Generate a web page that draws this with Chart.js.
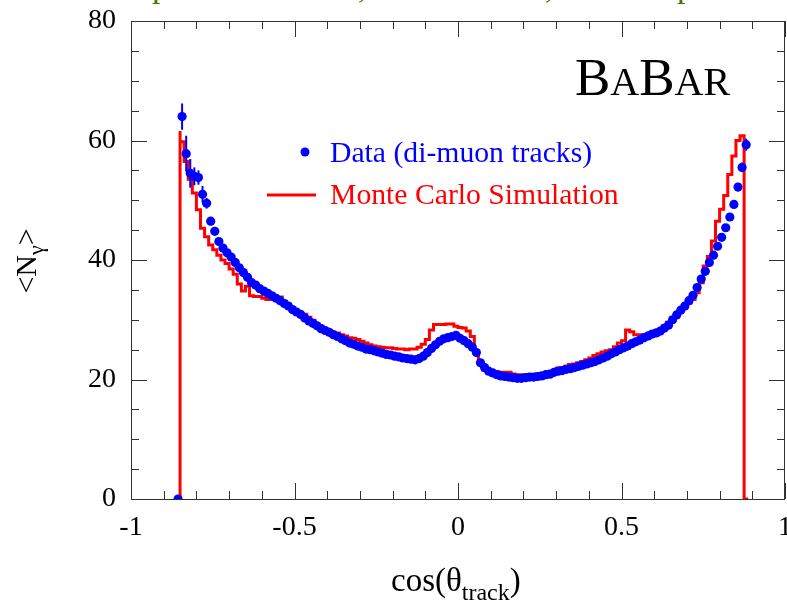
<!DOCTYPE html>
<html>
<head>
<meta charset="utf-8">
<script src="https://cdn.jsdelivr.net/npm/chart.js@4.4.1/dist/chart.umd.min.js"></script>
<style>
  html, body { margin: 0; padding: 0; background: #fff; }
  #wrap { width: 787px; height: 600px; position: relative; }
</style>
</head>
<body>
<div id="wrap"><canvas id="chart"></canvas></div>
<script>
// histogram binning (160 bins over -1..1, filled from -0.85 to 0.8875)
const BIN_START = -0.85;
const BIN_WIDTH = 0.0125;

// <N_gamma> per bin, data points (di-muon tracks)
const dataValues = [
  64.0, 57.8, 54.5, 54.0, 53.8, 51.0, 49.5, 46.5, 44.8, 43.1,
  42.0, 41.2, 40.5, 39.6, 38.7, 37.9, 37.1, 36.2, 35.8, 35.2,
  34.8, 34.4, 34.0, 33.6, 33.2, 32.7, 32.3, 31.7, 31.3, 30.9,
  30.3, 29.8, 29.4, 29.0, 28.5, 28.2, 27.9, 27.5, 27.2, 26.8,
  26.5, 26.1, 25.9, 25.6, 25.4, 25.1, 25.0, 24.8, 24.6, 24.4,
  24.2, 24.1, 23.9, 23.8, 23.6, 23.5, 23.4, 23.3, 23.5, 23.9,
  24.5, 25.2, 25.8, 26.4, 26.8, 27.0, 27.2, 27.4, 26.9, 26.5,
  26.0, 25.4, 24.5, 22.8, 22.0, 21.4, 21.1, 20.8, 20.6, 20.5,
  20.4, 20.3, 20.2, 20.2, 20.3, 20.4, 20.4, 20.5, 20.6, 20.8,
  20.9, 21.2, 21.4, 21.5, 21.7, 21.8, 22.0, 22.2, 22.4, 22.6,
  22.8, 23.0, 23.3, 23.6, 23.9, 24.3, 24.6, 25.0, 25.3, 25.6,
  26.0, 26.3, 26.6, 27.0, 27.3, 27.6, 27.8, 28.1, 28.6, 29.1,
  30.0, 30.8, 31.6, 32.3, 33.2, 34.1, 35.4, 36.8, 38.1, 39.6,
  40.8, 42.3, 43.8, 45.4, 47.2, 49.3, 52.2, 55.5, 59.3
];

// statistical errors on the data points
const dataErrors = [
  2.2, 3.0, 2.4, 1.5, 1.2, 1.4, 0.9, 0.7, 0.6, 0.5,
  0.4, 0.4, 0.4, 0.3, 0.3, 0.3, 0.3, 0.3, 0.3, 0.3,
  0.3, 0.3, 0.3, 0.3, 0.3, 0.3, 0.3, 0.3, 0.3, 0.3,
  0.3, 0.3, 0.3, 0.3, 0.3, 0.3, 0.3, 0.3, 0.3, 0.3,
  0.3, 0.3, 0.3, 0.3, 0.3, 0.3, 0.3, 0.3, 0.3, 0.3,
  0.3, 0.3, 0.3, 0.3, 0.3, 0.3, 0.3, 0.3, 0.3, 0.3,
  0.3, 0.3, 0.3, 0.3, 0.3, 0.3, 0.3, 0.3, 0.3, 0.3,
  0.3, 0.3, 0.3, 0.3, 0.3, 0.3, 0.3, 0.3, 0.3, 0.3,
  0.3, 0.3, 0.3, 0.3, 0.3, 0.3, 0.3, 0.3, 0.3, 0.3,
  0.3, 0.3, 0.3, 0.3, 0.3, 0.3, 0.3, 0.3, 0.3, 0.3,
  0.3, 0.3, 0.3, 0.3, 0.3, 0.3, 0.3, 0.3, 0.3, 0.3,
  0.3, 0.3, 0.3, 0.3, 0.3, 0.3, 0.3, 0.3, 0.3, 0.3,
  0.3, 0.3, 0.3, 0.3, 0.3, 0.3, 0.3, 0.4, 0.4, 0.4,
  0.4, 0.5, 0.5, 0.5, 0.6, 0.6, 0.7, 0.8, 1.0
];

// point in the first empty bin below the acceptance
const dataOutside = [-0.85625, 0];

// <N_gamma> per bin, Monte Carlo histogram
const mcValues = [
  61.6, 59.8, 56.5, 53.5, 51.2, 48.4, 45.3, 43.9, 42.5, 41.7,
  40.8, 40.0, 39.4, 38.5, 37.6, 36.0, 34.8, 35.6, 34.0, 33.9,
  33.9, 33.6, 33.4, 33.4, 33.7, 33.8, 33.1, 32.6, 32.0, 31.4,
  31.0, 30.9, 30.4, 29.9, 29.2, 28.9, 28.3, 28.1, 27.9, 27.8,
  27.5, 27.3, 27.0, 26.9, 26.7, 26.4, 26.1, 25.8, 25.6, 25.5,
  25.4, 25.3, 25.3, 25.2, 25.1, 25.1, 25.0, 25.1, 25.1, 25.4,
  25.9, 26.7, 28.3, 29.2, 29.2, 29.2, 29.3, 29.3, 28.9, 28.7,
  28.6, 28.1, 27.2, 24.5, 22.5, 21.6, 21.4, 21.3, 21.3, 21.2,
  21.2, 21.2, 20.9, 20.8, 20.8, 20.8, 20.8, 20.8, 20.9, 21.0,
  21.0, 21.2, 21.3, 21.9, 22.0, 22.2, 22.5, 22.6, 22.8, 23.0,
  23.3, 23.6, 24.0, 24.3, 24.6, 24.8, 25.0, 25.5, 26.1, 26.5,
  28.3, 28.0, 27.5, 27.5, 27.4, 27.2, 27.5, 27.8, 28.3, 28.9,
  29.6, 30.3, 31.1, 31.6, 32.0, 32.8, 33.4, 34.5, 36.2, 39.0,
  40.6, 43.2, 46.5, 48.5, 50.8, 54.3, 57.4, 60.0, 60.8
];

const xTicks = [-1, -0.5, 0, 0.5, 1];
const xTickLabels = ['-1', '-0.5', '0', '0.5', '1'];
const yTicks = [0, 20, 40, 60, 80];
const yTickLabels = ['0', '20', '40', '60', '80'];
const legendLabels = ['Data (di-muon tracks)', 'Monte Carlo Simulation'];

const BLUE = '#0000ff';
const RED = '#ff0000';
const SERIF = '"Liberation Serif", "Times New Roman", serif';

// build chart points from the arrays
const dataPoints = dataValues.map((v, i) => ({ x: BIN_START + (i + 0.5) * BIN_WIDTH, y: v }));
dataPoints.unshift({ x: dataOutside[0], y: dataOutside[1] });

const mcPoints = [{ x: BIN_START, y: 0 }];
mcValues.forEach((v, i) => mcPoints.push({ x: BIN_START + i * BIN_WIDTH, y: v }));
mcPoints.push({ x: BIN_START + mcValues.length * BIN_WIDTH, y: 0 });

// =====================================
// PLUGINS
// =====================================

const errorBars = {
  id: 'errorBars',
  afterDatasetDraw(chart, args) {
    if (args.index !== 1) return; // draw right after the MC line, before the markers
    const { ctx, scales: { x, y } } = chart;
    ctx.save();
    ctx.strokeStyle = BLUE;
    ctx.lineWidth = 2;
    dataValues.forEach((v, i) => {
      const px = x.getPixelForValue(BIN_START + (i + 0.5) * BIN_WIDTH);
      ctx.beginPath();
      ctx.moveTo(px, y.getPixelForValue(v - dataErrors[i]));
      ctx.lineTo(px, y.getPixelForValue(v + dataErrors[i]));
      ctx.stroke();
    });
    ctx.restore();
  },
};

const frameAndText = {
  id: 'frameAndText',
  afterDatasetsDraw(chart) {
    const { ctx, chartArea: a, scales: { x, y } } = chart;
    ctx.save();
    ctx.strokeStyle = '#333';
    ctx.lineWidth = 1;
    ctx.strokeRect(Math.round(a.left) + 0.5, Math.round(a.top) + 0.5,
      Math.round(a.right - a.left) - 1, Math.round(a.bottom - a.top));

    // ticks drawn inside the frame, ROOT style
    ctx.beginPath();
    for (let k = 0; k <= 20; k++) {
      const px = Math.round(x.getPixelForValue(-1 + k * 0.1)) + 0.5;
      const len = k % 5 === 0 ? 16 : 8;
      ctx.moveTo(px, a.bottom); ctx.lineTo(px, a.bottom - len);
      ctx.moveTo(px, a.top); ctx.lineTo(px, a.top + len);
    }
    for (let k = 0; k <= 16; k++) {
      const py = Math.round(y.getPixelForValue(k * 5)) + 0.5;
      const len = k % 4 === 0 ? 16 : 8;
      ctx.moveTo(a.left, py); ctx.lineTo(a.left + len, py);
      ctx.moveTo(a.right, py); ctx.lineTo(a.right - len, py);
    }
    ctx.stroke();

    // legend
    ctx.fillStyle = BLUE;
    ctx.beginPath();
    ctx.arc(305, 152, 4.5, 0, Math.PI * 2);
    ctx.fill();
    ctx.font = '29.7px ' + SERIF;
    ctx.textBaseline = 'alphabetic';
    ctx.fillText(legendLabels[0], 330, 162);
    ctx.strokeStyle = RED;
    ctx.lineWidth = 3;
    ctx.beginPath();
    ctx.moveTo(267, 195); ctx.lineTo(316, 195);
    ctx.stroke();
    ctx.fillStyle = RED;
    ctx.fillText(legendLabels[1], 330, 204);

    // BaBar logo with small caps
    ctx.fillStyle = '#000';
    let lx = 575;
    [['B', 53], ['A', 40], ['B', 53], ['AR', 40]].forEach(([t, s]) => {
      ctx.font = s + 'px ' + SERIF;
      ctx.fillText(t, lx, 95);
      lx += ctx.measureText(t).width;
    });

    // axis titles
    ctx.font = '33px ' + SERIF;
    let tx = 391;
    ctx.fillText('cos(\u03b8', tx, 591);
    tx += ctx.measureText('cos(\u03b8').width;
    ctx.font = '24px ' + SERIF;
    ctx.fillText('track', tx, 600);
    tx += ctx.measureText('track').width;
    ctx.font = '33px ' + SERIF;
    ctx.fillText(')', tx, 591);

    ctx.translate(36, 261);
    ctx.rotate(-Math.PI / 2);
    ctx.font = '30px ' + SERIF;
    const w1 = ctx.measureText('<N').width;
    const w3 = ctx.measureText('>').width;
    ctx.font = '22px ' + SERIF;
    const w2 = ctx.measureText('\u03b3').width;
    let ty = -(w1 + w2 + w3) / 2;
    ctx.font = '30px ' + SERIF;
    ctx.fillText('<N', ty, 0);
    ty += w1;
    ctx.font = '22px ' + SERIF;
    ctx.fillText('\u03b3', ty, 7);
    ty += w2;
    ctx.font = '30px ' + SERIF;
    ctx.fillText('>', ty, 0);
    ctx.restore();

    // green title above, cut off by the top edge
    ctx.save();
    ctx.fillStyle = '#3c7a00';
    ctx.font = '34px ' + SERIF;
    ctx.fillText('p', 152, -3);
    ctx.fillText(',', 358, -2);
    ctx.fillText(',', 545, -2);
    ctx.fillText('p', 677, -3);
    ctx.restore();
  },
};

// =====================================
// CHART
// =====================================

const tickFont = { family: SERIF, size: 28 };

new Chart(document.getElementById('chart'), {
  type: 'scatter',
  data: {
    datasets: [
      {
        label: legendLabels[0],
        data: dataPoints,
        pointRadius: 4.6,
        pointBackgroundColor: BLUE,
        pointBorderWidth: 0,
        showLine: false,
      },
      {
        label: legendLabels[1],
        data: mcPoints,
        showLine: true,
        stepped: 'after',
        borderColor: RED,
        borderWidth: 3,
        borderJoinStyle: 'miter',
        borderCapStyle: 'butt',
        pointRadius: 0,
        fill: false,
      },
    ],
  },
  options: {
    responsive: true,
    maintainAspectRatio: false,
    animation: false,
    layout: { autoPadding: false, padding: { top: 21, right: 2, left: 0, bottom: 0 } },
    plugins: { legend: { display: false }, tooltip: { enabled: false } },
    scales: {
      x: {
        type: 'linear',
        min: -1,
        max: 1,
        afterBuildTicks: (s) => { s.ticks = xTicks.map((v) => ({ value: v })); },
        afterFit: (s) => { s.height = 101; s.paddingLeft = 0; s.paddingRight = 0; },
        ticks: {
          callback: (v, i) => xTickLabels[i],
          font: tickFont,
          color: '#000',
          padding: 12,
          maxRotation: 0,
          autoSkip: false,
        },
        grid: { display: false, drawTicks: false, tickLength: 0 },
        border: { display: false },
      },
      y: {
        min: 0,
        max: 80,
        afterBuildTicks: (s) => { s.ticks = yTicks.map((v) => ({ value: v })); },
        afterFit: (s) => { s.width = 131; s.paddingTop = 0; s.paddingBottom = 0; },
        ticks: {
          callback: (v, i) => yTickLabels[i],
          font: tickFont,
          color: '#000',
          padding: 15,
          autoSkip: false,
        },
        grid: { display: false, drawTicks: false, tickLength: 0 },
        border: { display: false },
      },
    },
  },
  plugins: [errorBars, frameAndText],
});
</script>
</body>
</html>
